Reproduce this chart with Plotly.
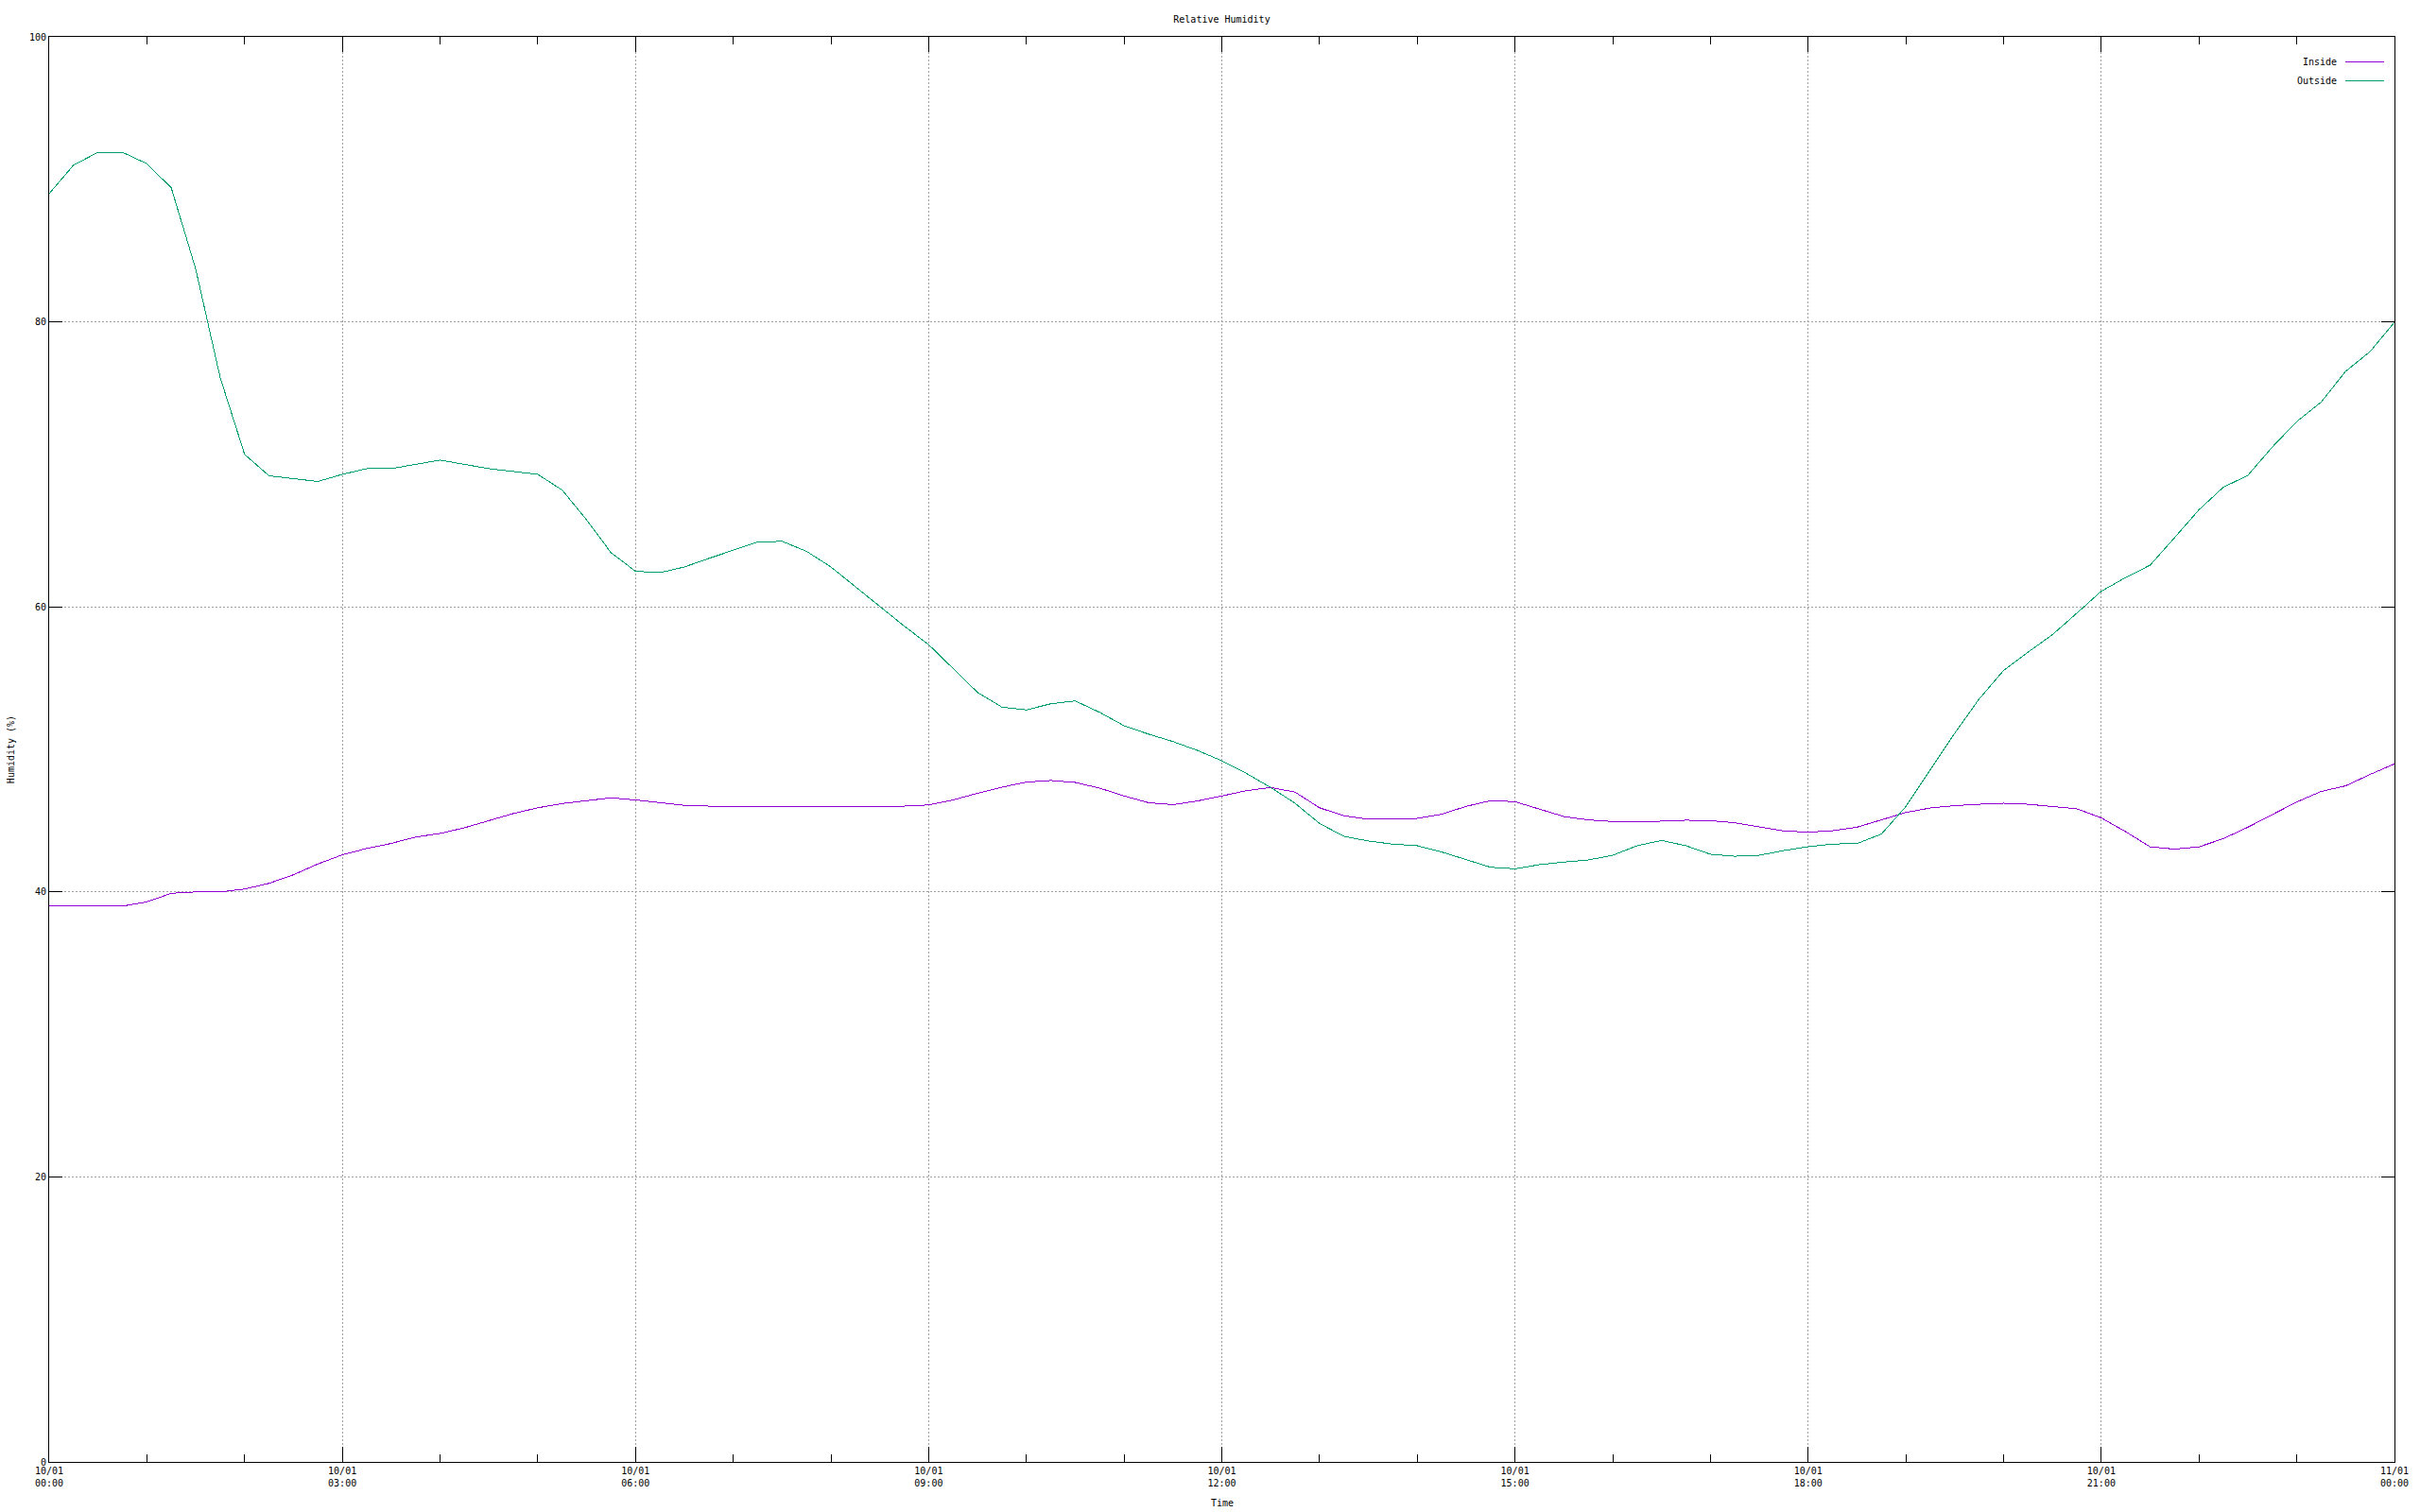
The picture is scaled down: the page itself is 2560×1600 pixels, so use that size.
import pandas as pd
import plotly.graph_objects as go

# ---- data (15-minute samples) ----
start_time = "2024-01-10 00:00"
end_time = "2024-01-11 00:00"
sample_minutes = 15

outside = [
    89.0, 91.0, 91.9, 91.9, 91.1, 89.4, 83.7, 76.1, 70.7, 69.2, 69.0, 68.8,
    69.3, 69.7, 69.7, 70.0, 70.3, 70.0, 69.7, 69.5, 69.3, 68.2, 66.1, 63.8,
    62.5, 62.4, 62.8, 63.4, 64.0, 64.55, 64.6, 63.9, 62.8, 61.4, 60.0, 58.65,
    57.35, 55.7, 54.0, 52.96, 52.77, 53.2, 53.4, 52.6, 51.66, 51.07, 50.55, 49.93,
    49.2, 48.32, 47.33, 46.22, 44.8, 43.9, 43.57, 43.35, 43.24, 42.8, 42.24, 41.73,
    41.62, 41.91, 42.09, 42.24, 42.57, 43.24, 43.61, 43.24, 42.64, 42.5, 42.57, 42.9,
    43.17, 43.36, 43.39, 44.06, 45.99, 48.56, 51.13, 53.54, 55.54, 56.82, 58.05, 59.56,
    61.1, 62.06, 62.93, 64.86, 66.82, 68.4, 69.23, 71.22, 73.0, 74.37, 76.53, 77.91,
    79.97,
]

inside = [
    39.0, 39.0, 39.0, 39.0, 39.3, 39.9, 40.0, 40.0, 40.2, 40.6, 41.2, 41.96,
    42.6, 43.05, 43.4, 43.85, 44.1, 44.5, 45.0, 45.5, 45.9, 46.2, 46.4, 46.6,
    46.45, 46.26, 46.07, 46.02, 46.02, 46.02, 46.02, 46.02, 46.02, 46.02, 46.02, 46.02,
    46.1, 46.45, 46.92, 47.35, 47.7, 47.82, 47.68, 47.28, 46.73, 46.26, 46.12, 46.38,
    46.73, 47.1, 47.33, 47.0, 45.9, 45.34, 45.1, 45.1, 45.16, 45.45, 46.0, 46.4,
    46.33, 45.82, 45.29, 45.05, 44.94, 44.9, 44.96, 45.03, 45.0, 44.85, 44.56, 44.28,
    44.19, 44.29, 44.54, 45.03, 45.57, 45.89, 46.05, 46.15, 46.22, 46.15, 45.99, 45.83,
    45.19, 44.22, 43.16, 43.0, 43.16, 43.74, 44.54, 45.45, 46.31, 47.05, 47.44, 48.24,
    48.98,
]

series_names = ["Inside", "Outside"]
series_colors = ["#9400d3", "#009e73"]

times = pd.date_range(start_time, end_time, freq=f"{sample_minutes}min")

FONT = "DejaVu Sans Mono"
W, H = 2560, 1600
ML, MT = 52, 39
PW, PH = 2489, 1508
MR, MB = W - ML - PW, H - MT - PH


def px_to_paper_x(px):
    return (px - ML) / PW


def px_to_paper_y(py):
    return (MT + PH - py) / PH


fig = go.Figure()
for name, vals, col in zip(series_names, [inside, outside], series_colors):
    fig.add_trace(go.Scatter(x=times, y=vals, mode="lines", name=name,
                             line=dict(color=col, width=1), showlegend=False))

# gnuplot-style key (text right, sample line on the right)
key_text_right = 2482
key_line = (2489, 2530)
key_rows = [65, 85]
for name, col, yy in zip(series_names, series_colors, key_rows):
    py = px_to_paper_y(yy)
    fig.add_annotation(x=px_to_paper_x(key_text_right), y=py, xref="paper", yref="paper",
                       text=name, showarrow=False, xanchor="right", yanchor="middle",
                       font=dict(family=FONT, size=10, color="black"))
    fig.add_shape(type="line", xref="paper", yref="paper",
                  x0=px_to_paper_x(key_line[0]), x1=px_to_paper_x(key_line[1]), y0=py, y1=py,
                  line=dict(color=col, width=1))

# axis titles
fig.add_annotation(x=0.5, y=px_to_paper_y(1590), xref="paper", yref="paper", text="Time",
                   showarrow=False, xanchor="center", yanchor="middle",
                   font=dict(family=FONT, size=10, color="black"))
fig.add_annotation(x=px_to_paper_x(11), y=0.5, xref="paper", yref="paper",
                   text="Humidity (%)", textangle=-90, showarrow=False,
                   xanchor="center", yanchor="middle",
                   font=dict(family=FONT, size=10, color="black"))

grid_style = dict(showgrid=True, gridcolor="#a0a0a0", gridwidth=1, griddash="2px,2px")
axis_common = dict(showline=True, linecolor="black", linewidth=1, mirror="allticks",
                   ticks="inside", tickcolor="black", tickwidth=1, zeroline=False,
                   tickfont=dict(family=FONT, size=10, color="black"), **grid_style)

fig.update_layout(
    width=W, height=H, autosize=False,
    margin=dict(l=ML, r=MR, t=MT, b=MB, pad=0),
    paper_bgcolor="white", plot_bgcolor="white",
    font=dict(family=FONT, size=10, color="black"),
    title=dict(text="Relative Humidity", x=0.5, xref="paper", xanchor="center",
               y=1 - 20 / H, yref="container", yanchor="middle",
               font=dict(family=FONT, size=10, color="black")),
    xaxis=dict(type="date", range=[start_time, end_time], tick0=start_time,
               dtick=3 * 3600000, tickformat="%d/%m<br>%H:%M", ticklen=16,
               minor=dict(dtick=3600000, ticks="inside", ticklen=8, tickcolor="black",
                          showgrid=False),
               **axis_common),
    yaxis=dict(range=[0, 100], dtick=20, tick0=0, ticklen=14,
               **axis_common),
)

fig.write_html(
    "out.html",
    config={"displayModeBar": False},
    post_script=(
        "document.body.style.margin='0';document.body.style.overflow='hidden';"
        "document.querySelectorAll('.main-svg').forEach(function(s){"
        "s.style.shapeRendering='crispEdges';});"
    ),
)
